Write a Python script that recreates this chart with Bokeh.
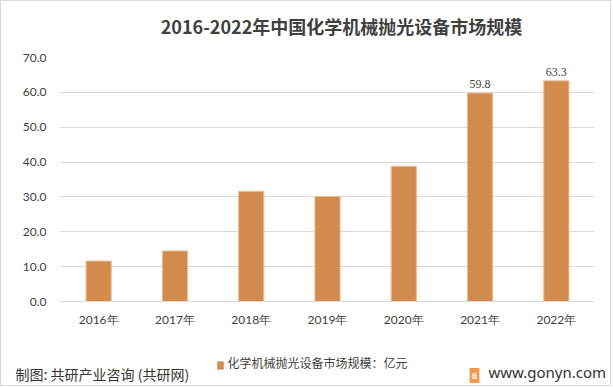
from bokeh.plotting import figure
from bokeh.models import (ColumnDataSource, FixedTicker, NumeralTickFormatter, Label,
                          LabelSet, Range1d)
from bokeh.embed import file_html
from bokeh.resources import INLINE

# ---- data ----
years = ["2016年", "2017年", "2018年", "2019年", "2020年", "2021年", "2022年"]
values = [11.6, 14.5, 31.6, 30.1, 38.8, 59.8, 63.3]
labelled = [False, False, False, False, False, True, True]
y_ticks = [0, 10, 20, 30, 40, 50, 60, 70]
title_text = "2016-2022年中国化学机械抛光设备市场规模"
series_name = "化学机械抛光设备市场规模：亿元"
source_text = "制图: 共研产业咨询 (共研网)"
site_text = "www.gonyn.com"

BAR = "#d38b4d"
TXT = "#404040"
GRID = "#d9d9d9"

src = ColumnDataSource(dict(
    x=years, top=values,
    label=[f"{v:.1f}" if s else "" for v, s in zip(values, labelled)],
))

W, H = 611, 386
p = figure(width=W, height=H, x_range=years, y_range=Range1d(0, 70),
           output_backend="svg", toolbar_location=None, title_location=None,
           min_border_left=59, min_border_right=18, min_border_top=56, min_border_bottom=86)
p.outline_line_color = None
p.background_fill_color = "white"
p.border_fill_color = "white"
p.styles = {"border": "1px solid #d9d9d9"}

bars = p.vbar(x="x", top="top", width=0.33, source=src, fill_color=BAR,
              line_color="#ebbf94", line_width=1)

p.add_layout(LabelSet(x="x", y="top", text="label", source=src, text_align="center",
                      text_baseline="bottom", y_offset=5, text_font="Lato",
                      text_font_size="12px", text_color=TXT))

# axes
p.yaxis.ticker = FixedTicker(ticks=y_ticks)
p.yaxis.formatter = NumeralTickFormatter(format="0.0")
p.yaxis.axis_line_color = None
p.yaxis.major_tick_line_color = None
p.yaxis.minor_tick_line_color = None
p.yaxis.major_label_standoff = 8
p.yaxis.major_label_text_font = "Lato"
p.yaxis.major_label_text_font_size = "12px"
p.yaxis.major_label_text_color = TXT

p.xaxis.axis_line_color = GRID
p.xaxis.major_tick_line_color = None
p.xaxis.minor_tick_line_color = None
p.xaxis.major_label_standoff = 4
p.xaxis.major_label_text_font = "Lato"
p.xaxis.major_label_text_font_size = "12px"
p.xaxis.major_label_text_color = TXT

p.xgrid.grid_line_color = None
p.ygrid.grid_line_color = GRID
p.ygrid.grid_line_width = 1

def lab(**kw):
    return Label(x_units="screen", y_units="screen", text_baseline="middle", **kw)

# ---- above stack (nearest the frame first) ----
p.add_layout(lab(x=281, y=32, text=title_text, text_align="center",
                 text_font="Noto Sans CJK SC", text_font_style="bold",
                 text_font_size="18px", text_color=TXT), "above")
# legend key (small orange square)
p.add_layout(lab(x=160, y=-334, text=" ", text_align="center", text_font_size="2px",
                 background_fill_color=BAR, padding=3), "above")
p.add_layout(lab(x=-45, y=-350, text=source_text, text_align="left",
                 text_font="Noto Sans CJK SC", text_font_size="14px",
                 text_color="#333333"), "above")

# ---- below stack (after the x axis) ----
p.add_layout(lab(x=167, y=-16, text=series_name, text_align="left",
                 text_font="Noto Sans CJK SC", text_font_size="12px",
                 text_color=TXT), "below")
p.add_layout(lab(x=428, y=-5, text=site_text, text_align="left",
                 text_font="Noto Sans", text_font_size="15px", text_color="#333333"), "below")

# ---- right stack: site logo ----
p.add_layout(lab(x=-120, y=-74, text="G", text_align="center",
                 text_font="Noto Sans", text_font_style="bold", text_font_size="8px",
                 text_color="white", background_fill_color="#f39a4c", padding=2), "right")

open("out.html", "w").write(file_html(p, INLINE))
